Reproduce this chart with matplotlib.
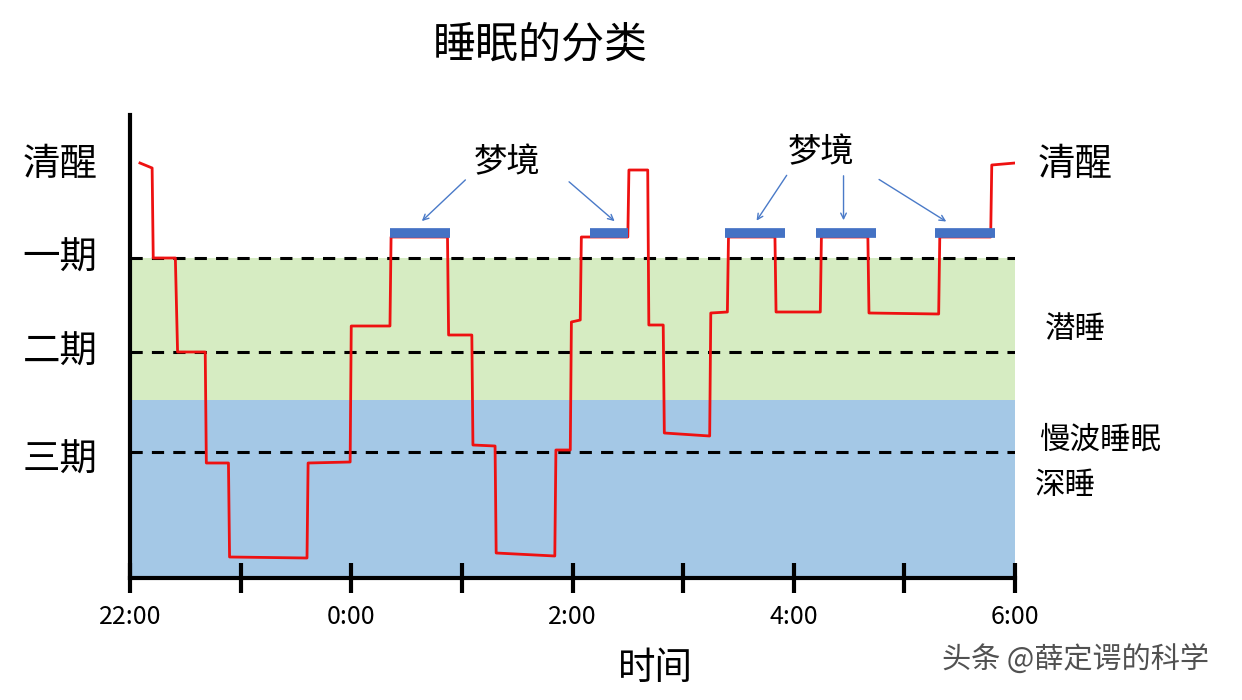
import matplotlib
matplotlib.use("Agg")
import matplotlib.pyplot as plt
plt.rcParams['font.family'] = ['Noto Sans CJK SC', 'DejaVu Sans']

levels = {"清醒": 4.13, "一期": 3.20, "二期": 2.26, "三期": 1.26}
hyp_t = [0.09, 0.20, 0.21, 0.41, 0.43, 0.68, 0.69, 0.89, 0.90, 1.60, 1.61, 1.99, 2.00, 2.35, 2.36, 2.87, 2.88, 3.09, 3.10,
         3.30, 3.31, 3.84, 3.85, 3.98, 3.99, 4.07, 4.08, 4.50, 4.51, 4.68, 4.69, 4.82, 4.83, 5.24, 5.25, 5.40, 5.41,
         5.83, 5.84, 6.24, 6.25, 6.67, 6.68, 7.31, 7.32, 7.78, 7.79, 8.00]
hyp_y = [4.15, 4.10, 3.20, 3.20, 2.26, 2.26, 1.15, 1.15, 0.21, 0.20, 1.15, 1.16, 2.52, 2.52, 3.41, 3.41, 2.43, 2.43, 1.33,
         1.32, 0.25, 0.22, 1.28, 1.28, 2.56, 2.58, 3.41, 3.41, 4.08, 4.08, 2.53, 2.53, 1.45, 1.42, 2.65, 2.66, 3.41,
         3.41, 2.66, 2.66, 3.41, 3.41, 2.65, 2.64, 3.41, 3.41, 4.13, 4.15]
rem_start = [2.35, 4.16, 5.38, 6.20, 7.28]
rem_end = [2.89, 4.50, 5.92, 6.74, 7.82]
xlabels = ["22:00", "", "0:00", "", "2:00", "", "4:00", "", "6:00"]

fig = plt.figure(figsize=(12.42, 7), dpi=100)
ax = fig.add_axes([130/1242, 1-578/700, 885/1242, 463/700])
ax.set_xlim(0, 8)
ax.set_ylim(0, 4.63)
ax.axhspan(0, 1.78, color='#a4c8e6', lw=0)
ax.axhspan(1.78, 3.20, color='#d6ecc2', lw=0)
for name in ["一期", "二期", "三期"]:
    ax.axhline(levels[name], color='black', ls=(0, (4, 3)), lw=2.2)
ax.plot(hyp_t, hyp_y, color='#ee1111', lw=2)
for s, e in zip(rem_start, rem_end):
    ax.plot([s, e], [3.45, 3.45], color='#4472c4', lw=7, solid_capstyle='butt')

for sp in ['top', 'right']:
    ax.spines[sp].set_visible(False)
ax.spines['left'].set_linewidth(3)
ax.spines['bottom'].set_linewidth(3)
ax.set_yticks([])
ax.set_xticks(range(9))
ax.set_xticklabels(xlabels, fontsize=18)
ax.tick_params(axis='x', direction='inout', length=22, width=3, pad=8)

for name, y in [("清醒", 4.13), ("一期", 3.20), ("二期", 2.26), ("三期", 1.18)]:
    fig.text(60/1242, y*100/700 + (1-578/700), name, fontsize=27, ha='center', va='center')
fig.text(1075/1242, 1-165/700, "清醒", fontsize=27, ha='center', va='center')
fig.text(1075/1242, 1-330/700, "潜睡", fontsize=22, ha='center', va='center')
fig.text(1100/1242, 1-440/700, "慢波睡眠", fontsize=22, ha='center', va='center')
fig.text(1065/1242, 1-485/700, "深睡", fontsize=22, ha='center', va='center')
fig.text(540/1242, 1-45/700, "睡眠的分类", fontsize=31, ha='center', va='center')
fig.text(655/1242, 1-668/700, "时间", fontsize=27, ha='center', va='center')
fig.text(1075/1242, 1-660/700, "头条 @薛定谔的科学", fontsize=21, ha='center', va='center', color='#333333', alpha=0.85)

ax.text(3.41, 4.15, "梦境", fontsize=24, ha='center', va='center')
ax.text(6.25, 4.25, "梦境", fontsize=24, ha='center', va='center')
ap = dict(arrowstyle='->', color='#4a7ac8', lw=1)
for (tx, ty), (hx, hy) in [((3.05, 4.0), (2.62, 3.55)), ((3.95, 3.98), (4.4, 3.55)),
                           ((5.95, 4.05), (5.65, 3.55)), ((6.45, 4.05), (6.45, 3.55)),
                           ((6.75, 4.0), (7.4, 3.55))]:
    ax.annotate("", xy=(hx, hy), xytext=(tx, ty), arrowprops=ap)

fig.savefig("out.png", dpi=100, facecolor='white')
